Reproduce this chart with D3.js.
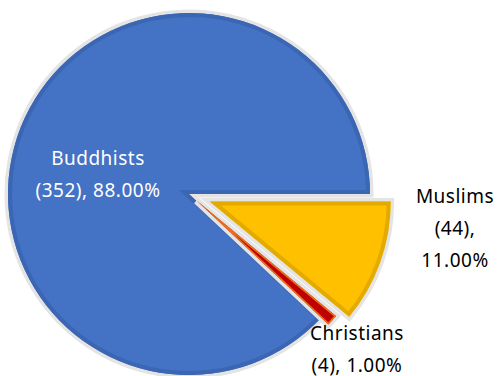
<!DOCTYPE html>
<html><head><meta charset="utf-8">
<script src="https://cdn.jsdelivr.net/npm/d3@7"></script>
<style>body{margin:0;background:#fff}svg{display:block}</style></head>
<body>
<svg id="chart" width="497" height="376"></svg>
<script>
const categories = ["Muslims", "Christians", "Buddhists"];
const counts = [44, 4, 352];
const percents = ["11.00%", "1.00%", "88.00%"];
const fillColors = ["#FFC000", "#C00000", "#4472C4"];
const edgeColors = ["#E3AA00", "#E8731C", "#3B66B3"];

// layout
const cx = 189, cy = 194, R = 181;
const explode = [22, 10, 0];
const edgeWidth = [8, 3, 8];
const svg = d3.select("#chart");
const pie = d3.pie().sort(null).value(d => d.v)
  .startAngle(Math.PI / 2).endAngle(Math.PI / 2 + 2 * Math.PI);
const data = categories.map((c, i) => ({ c, v: counts[i], p: percents[i], i }));
const arcs = pie(data);
const arc = d3.arc().innerRadius(0).outerRadius(R);

const root = svg.append("g").attr("transform", `translate(${cx},${cy})`);
const defs = svg.append("defs");

const order = [2, 1, 0];
order.forEach(k => {
  const a = arcs[k];
  const mid = (a.startAngle + a.endAngle) / 2;
  const ox = Math.sin(mid) * explode[k], oy = -Math.cos(mid) * explode[k];
  const g = root.append("g").attr("transform", `translate(${ox},${oy})`);
  const path = arc(a);
  defs.append("clipPath").attr("id", "clip" + k).append("path")
    .attr("d", path).attr("transform", `translate(${cx + ox},${cy + oy})`);
  g.append("path").attr("d", path)
    .attr("fill", "#fff").attr("stroke", "#E4E4E4")
    .attr("stroke-width", 7).attr("stroke-linejoin", "miter");
  g.append("path").attr("d", path)
    .attr("fill", fillColors[k]);
  g.append("g").attr("clip-path", `url(#clip${k})`)
    .attr("transform", `translate(${-cx - ox},${-cy - oy})`)
    .append("path").attr("d", path)
    .attr("transform", `translate(${cx + ox},${cy + oy})`)
    .attr("fill", "none").attr("stroke", edgeColors[k]).attr("stroke-width", edgeWidth[k]);
});

// labels
const labelLines = [
  [categories[0], `(${counts[0]}),`, percents[0]],
  [categories[1], `(${counts[1]}), ${percents[1]}`],
  [categories[2], `(${counts[2]}), ${percents[2]}`]
];
const labelAnchor = [[455, 203], [357, 340], [98, 165]];
const labelColor = ["#000", "#000", "#fff"];
labelLines.forEach((lines, k) => {
  const t = svg.append("text")
    .attr("text-anchor", "middle")
    .attr("font-family", "'Noto Sans', sans-serif")
    .attr("font-size", 19)
    .attr("letter-spacing", 0.5)
    .attr("fill", labelColor[k]);
  lines.forEach((s, j) => {
    t.append("tspan").attr("x", labelAnchor[k][0])
      .attr("y", labelAnchor[k][1] + j * 32).text(s);
  });
});
</script>
</body></html>
